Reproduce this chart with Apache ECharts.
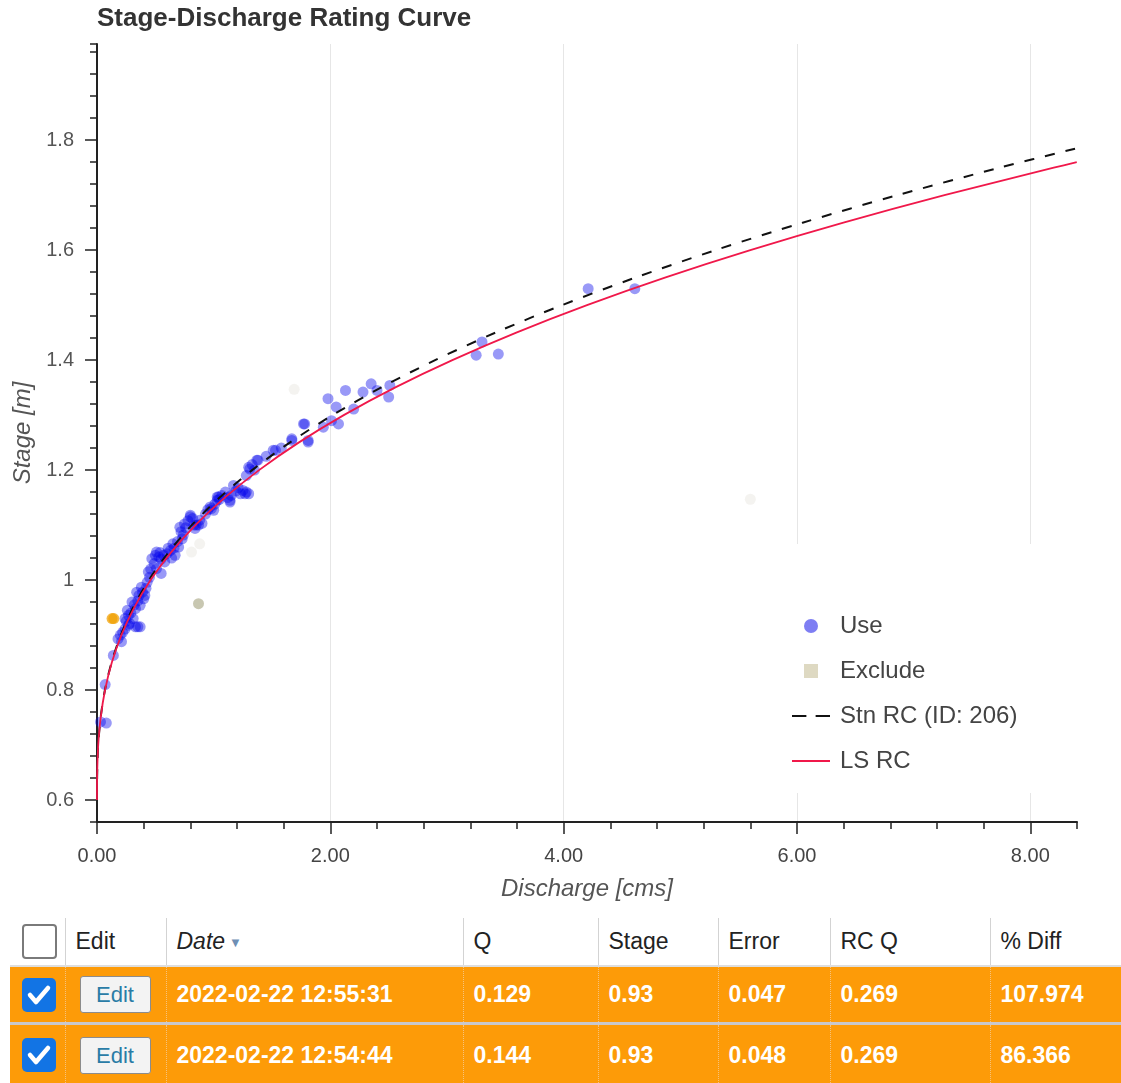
<!DOCTYPE html>
<html>
<head>
<meta charset="utf-8">
<title>Stage-Discharge Rating Curve</title>
<script src="https://cdn.jsdelivr.net/npm/echarts@6/dist/echarts.min.js"></script>
<style>
  html, body { margin: 0; padding: 0; background: #fff; font-family: 'Liberation Sans', Arial, sans-serif; }
  #chart { position: absolute; left: 0; top: 0; width: 1121px; height: 910px; }
  #tbl { position: absolute; left: 10px; top: 918px; width: 1111px; border-collapse: collapse; table-layout: fixed; }
  #tbl th { height: 47px; font-weight: normal; font-size: 23px; color: #222; text-align: left;
            padding: 0 0 0 10px; border-left: 1px solid #d3d3d3; border-bottom: 2px solid #dedede; background: #fff; }
  #tbl th:first-child { border-left: none; padding-left: 12px; }
  #tbl th i .arr { color: #6f8fb5; font-style: normal; font-size: 13px; vertical-align: middle; margin-left: 4px; }
  #tbl td { background: #fd9b08; color: #fff; font-weight: bold; font-size: 23px; padding: 0 0 0 10px;
            border-left: 1px dotted #f6c27c; white-space: nowrap; }
  #tbl td:first-child { border-left: none; padding-left: 12px; }
  #tbl td.ed { padding-left: 14px; }
  #tbl tr.r1 td { height: 55px; border-bottom: 3px solid #c8c8cc; }
  #tbl tr.r2 td { height: 60px; }
  .cb { display: inline-block; width: 31px; height: 31px; border: 2px solid #7a7a7a; border-radius: 4px; background: #fff; vertical-align: middle; }
  .cbon { display: inline-block; width: 34px; height: 34px; border-radius: 5px; background: #1274e4; vertical-align: middle; }
  .btn { display: inline-block; width: 69px; height: 35px; line-height: 35px; text-align: center; border: 1px solid #8c8c8c;
         border-radius: 3px; background: #f3f3f3; color: #2a7ca6; font-weight: normal; font-size: 22px; vertical-align: middle; }
</style>
</head>
<body>
<div id="chart"></div>
<table id="tbl">
  <colgroup>
    <col style="width:55px"><col style="width:101px"><col style="width:297px"><col style="width:135px">
    <col style="width:120px"><col style="width:112px"><col style="width:160px"><col style="width:131px">
  </colgroup>
  <thead>
    <tr><th><span class="cb"></span></th><th>Edit</th><th><i>Date<span class="arr">&#9660;</span></i></th>
        <th>Q</th><th>Stage</th><th>Error</th><th>RC Q</th><th>% Diff</th></tr>
  </thead>
  <tbody id="rows"></tbody>
</table>
<script>
// measured points (Use)
var useQ = [0.03, 0.08, 0.07, 0.14, 0.18, 0.21, 0.24, 0.24, 0.27, 0.27, 0.28, 0.30, 0.33, 0.33, 0.35, 0.37,
            0.37, 0.34, 0.40, 0.41, 0.38, 0.43, 0.44, 0.47, 0.51, 0.55, 0.53, 0.51, 0.57, 0.58, 0.63, 0.65,
            0.67, 0.70, 0.73, 0.71, 0.75, 0.80, 0.83, 0.87, 0.88, 0.80, 0.85, 0.97, 1.00, 0.98, 1.03, 1.03,
            1.07, 1.04, 1.14, 1.14, 1.15, 1.17, 1.23, 1.27, 1.28, 1.30, 1.28, 1.31, 1.30, 1.37, 1.38, 1.51,
            1.53, 1.67, 1.67, 1.77, 1.78, 1.81, 1.81, 1.94, 1.98, 2.01, 2.05, 2.07, 2.13, 2.20, 2.28, 2.35,
            2.40, 2.50, 2.51, 3.25, 3.30, 3.44, 4.21, 4.61,
            0.20, 0.22, 0.25, 0.26, 0.29, 0.31, 0.32, 0.35, 0.36, 0.39, 0.42, 0.45, 0.46, 0.49, 0.50, 0.54,
            0.55, 0.60, 0.61, 0.64, 0.66, 0.69, 0.72, 0.74, 0.76, 0.78, 0.82, 0.84, 0.90, 0.93, 0.95, 1.01,
            1.05, 1.10, 1.12, 1.19, 1.21, 1.25, 1.33, 1.35, 1.45, 1.58];
var useStage = [0.742, 0.740, 0.810, 0.863, 0.893, 0.888, 0.911, 0.930, 0.918, 0.936, 0.921, 0.960, 0.948, 0.915, 0.915, 0.915,
                0.954, 0.978, 0.966, 0.972, 0.987, 0.996, 1.015, 1.039, 1.021, 1.012, 1.042, 1.051, 1.045, 1.033, 1.054, 1.066,
                1.045, 1.060, 1.075, 1.096, 1.102, 1.115, 1.100, 1.100, 1.109, 1.118, 1.100, 1.133, 1.127, 1.130, 1.145, 1.151,
                1.154, 1.151, 1.142, 1.145, 1.154, 1.172, 1.157, 1.157, 1.160, 1.157, 1.190, 1.202, 1.205, 1.218, 1.218, 1.236,
                1.236, 1.254, 1.257, 1.284, 1.284, 1.254, 1.251, 1.278, 1.330, 1.290, 1.315, 1.284, 1.345, 1.311, 1.342, 1.357,
                1.345, 1.333, 1.354, 1.409, 1.433, 1.411, 1.530, 1.530,
                0.900, 0.905, 0.925, 0.945, 0.940, 0.930, 0.955, 0.962, 0.972, 0.978, 0.985, 1.005, 1.020, 1.030, 1.045, 1.050,
                1.038, 1.048, 1.058, 1.040, 1.058, 1.070, 1.088, 1.082, 1.095, 1.108, 1.112, 1.094, 1.103, 1.120, 1.128, 1.138,
                1.147, 1.160, 1.150, 1.162, 1.168, 1.163, 1.210, 1.200, 1.225, 1.240];
// excluded points
var exclQ = [0.87];
var exclStage = [0.957];
var fadedQ = [0.81, 0.88, 1.69, 5.60];
var fadedStage = [1.051, 1.066, 1.347, 1.147];
// rows selected in the table
var selQ = [0.129, 0.144];
var selStage = [0.93, 0.93];
// station rating curve
var stnStage = [0.60, 0.65, 0.70, 0.75, 0.80, 0.85, 0.90, 0.95, 1.00, 1.05, 1.10, 1.15, 1.20, 1.25, 1.30, 1.35,
                1.40, 1.45, 1.50, 1.55, 1.60, 1.65, 1.70, 1.75, 1.785];
var stnQ = [0, 0.0016, 0.0104, 0.0312, 0.068, 0.1245, 0.204, 0.310, 0.444, 0.611, 0.812, 1.051, 1.330, 1.652, 2.019, 2.433,
            2.898, 3.415, 3.985, 4.613, 5.300, 6.048, 6.859, 7.736, 8.39];
// least squares rating curve
var lsStage = [0.60, 0.62, 0.65, 0.70, 0.75, 0.80, 0.85, 0.90, 0.95, 1.00, 1.05, 1.10, 1.15, 1.20, 1.25, 1.30,
               1.35, 1.40, 1.45, 1.50, 1.55, 1.60, 1.65, 1.70, 1.75, 1.76];
var lsQ = [0, 0.0001, 0.0016, 0.0104, 0.0316, 0.069, 0.127, 0.209, 0.319, 0.459, 0.633, 0.844, 1.095, 1.389, 1.728, 2.115,
           2.553, 3.046, 3.594, 4.200, 4.868, 5.600, 6.398, 7.264, 8.201, 8.398];
// ticks
var xMajor = [0, 2, 4, 6, 8];
var yMajor = [0.6, 0.8, 1, 1.2, 1.4, 1.6, 1.8];

// table
var tDate = ['2022-02-22 12:55:31', '2022-02-22 12:54:44'];
var tQ = ['0.129', '0.144'];
var tStage = ['0.93', '0.93'];
var tErr = ['0.047', '0.048'];
var tRcq = ['0.269', '0.269'];
var tDiff = ['107.974', '86.366'];

function zip(a, b) {
    return a.map(function (v, i) { return [v, b[i]]; });
}
function isMajor(v, step) {
    return Math.abs(v / step - Math.round(v / step)) < 1e-6;
}

var check = '<svg width="34" height="34" style="display:block"><polyline points="8,17 14,24 26,10" fill="none" stroke="#fff" stroke-width="4.5" stroke-linecap="round" stroke-linejoin="round"/></svg>';
var html = '';
for (var i = 0; i < tDate.length; i++) {
    html += '<tr class="r' + (i + 1) + '"><td><span class="cbon">' + check + '</span></td>' +
        '<td class="ed"><span class="btn">Edit</span></td>' +
        '<td>' + tDate[i] + '</td><td>' + tQ[i] + '</td><td>' + tStage[i] + '</td>' +
        '<td>' + tErr[i] + '</td><td>' + tRcq[i] + '</td><td>' + tDiff[i] + '</td></tr>';
}
document.getElementById('rows').innerHTML = html;

var myChart = echarts.init(document.getElementById('chart'));
var axisColor = '#222';
var option = {
    animation: false,
    textStyle: { fontFamily: 'Liberation Sans' },
    title: {
        text: 'Stage-Discharge Rating Curve',
        left: 92,
        top: 1,
        textStyle: { fontSize: 26, fontWeight: 'bold', color: '#333' }
    },
    grid: { left: 97, right: 44, top: 44, bottom: 88, containLabel: false },
    legend: {
        orient: 'vertical',
        left: 770,
        top: 544,
        padding: [70, 40, 20, 22],
        backgroundColor: '#fff',
        itemWidth: 38,
        itemHeight: 14,
        itemGap: 21,
        symbolKeepAspect: true,
        selectedMode: false,
        textStyle: { fontSize: 24, color: '#444', lineHeight: 24, padding: [0, 0, 0, 5] },
        data: [
            { name: 'Use', icon: 'circle', itemStyle: { color: 'rgba(40,40,235,0.75)' } },
            { name: 'Exclude', icon: 'path://M0,0h10v10h-10z', itemStyle: { color: '#d6cfb3' } },
            { name: 'Stn RC (ID: 206)', icon: 'path://M0,0h14v2h-14z M23,0h14v2h-14z', itemStyle: { color: '#111' } },
            { name: 'LS RC', icon: 'path://M0,0h40v2h-40z', itemStyle: { color: '#f0184a' } }
        ]
    },
    xAxis: [{
        type: 'value',
        position: 'bottom',
        min: 0,
        max: 8.4,
        interval: 0.4,
        name: 'Discharge [cms]',
        nameLocation: 'middle',
        nameGap: 55,
        nameTextStyle: { fontSize: 24, fontStyle: 'italic', color: '#555' },
        axisLine: { lineStyle: { color: axisColor, width: 2 } },
        axisTick: { length: 7, lineStyle: { color: axisColor, width: 1.5 } },
        axisLabel: {
            margin: 24, fontSize: 20, color: '#444',
            formatter: function (v) { return isMajor(v, 2) ? v.toFixed(2) : ''; }
        },
        splitLine: { show: false }
    }, {
        type: 'value',
        position: 'bottom',
        min: 0,
        max: 8.4,
        interval: 2,
        axisLine: { show: false },
        axisTick: { length: 12, customValues: xMajor, lineStyle: { color: axisColor, width: 1.5 } },
        axisLabel: { show: false },
        splitLine: { show: true, lineStyle: { color: '#e6e6e6', width: 1 } }
    }],
    yAxis: [{
        type: 'value',
        position: 'left',
        min: 0.56,
        max: 1.975,
        interval: 0.04,
        name: 'Stage [m]',
        nameLocation: 'middle',
        nameGap: 58,
        nameTextStyle: { fontSize: 24, fontStyle: 'italic', color: '#555' },
        axisLine: { lineStyle: { color: axisColor, width: 2 } },
        axisTick: { length: 7, lineStyle: { color: axisColor, width: 1.5 } },
        axisLabel: {
            margin: 23, fontSize: 20, color: '#555',
            formatter: function (v) { return isMajor(v, 0.2) ? String(Math.round(v * 10) / 10) : ''; }
        },
        splitLine: { show: false }
    }, {
        type: 'value',
        position: 'left',
        min: 0.56,
        max: 1.975,
        axisLine: { show: false },
        axisTick: { length: 12, customValues: yMajor, lineStyle: { color: axisColor, width: 1.5 } },
        axisLabel: { show: false },
        splitLine: { show: false }
    }],
    series: [{
        name: 'Use',
        type: 'scatter',
        symbolSize: 11,
        itemStyle: { color: 'rgba(0,0,235,0.5)' },
        data: zip(useQ, useStage)
    }, {
        name: 'Exclude',
        type: 'scatter',
        symbolSize: 11,
        itemStyle: { color: 'rgba(150,148,105,0.65)' },
        data: zip(exclQ, exclStage)
    }, {
        name: 'faded',
        type: 'scatter',
        symbolSize: 11,
        itemStyle: { color: 'rgba(185,180,160,0.2)' },
        data: zip(fadedQ, fadedStage)
    }, {
        name: 'selected',
        type: 'scatter',
        symbolSize: 11,
        itemStyle: { color: 'rgba(240,160,0,0.9)' },
        data: zip(selQ, selStage)
    }, {
        name: 'Stn RC (ID: 206)',
        type: 'line',
        symbol: 'none',
        smooth: 0.3,
        lineStyle: { color: '#111', width: 2, type: [10, 11] },
        itemStyle: { color: '#111' },
        data: zip(stnQ, stnStage)
    }, {
        name: 'LS RC',
        type: 'line',
        symbol: 'none',
        smooth: 0.3,
        lineStyle: { color: '#f0184a', width: 1.8 },
        itemStyle: { color: '#f0184a' },
        data: zip(lsQ, lsStage)
    }]
};
myChart.setOption(option);
</script>
</body>
</html>
